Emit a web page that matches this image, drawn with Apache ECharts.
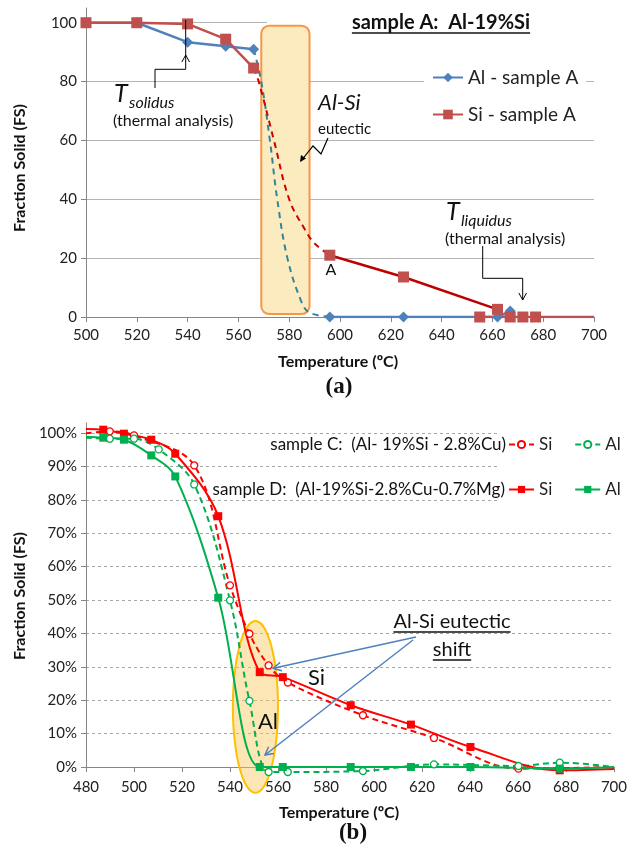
<!DOCTYPE html>
<html>
<head>
<meta charset="utf-8">
<script src="https://cdn.jsdelivr.net/npm/echarts@6/dist/echarts.min.js"></script>
<style>
html, body { margin: 0; padding: 0; background: #fff; }
#chart { width: 630px; height: 848px; }
</style>
</head>
<body>
<div id="chart"></div>
<script>
'use strict';
// ---- (a) sample A : Al-19%Si ----
var alT_a1 = [500, 520, 540, 555, 566];
var alFS_a1 = [100, 100, 93.4, 92, 91];
var alT_a2 = [596, 625, 662, 667];
var alFS_a2 = [0, 0, 0, 2];
var alDashT_a = [566, 569, 572.4, 575.3, 579.3, 584.9, 588, 596];
var alDashFS_a = [91, 80, 60, 40, 20, 5, 1.5, 0];
var siT_a1 = [500, 520, 540, 555, 566];
var siFS_a1 = [100, 100, 99.6, 94.4, 84.6];
var siDashT_a = [566, 568, 574, 580, 586, 590, 596];
var siDashFS_a = [84.6, 80, 60, 40, 30, 25, 21];
var siT_a2 = [596, 625, 662];
var siFS_a2 = [21, 13.6, 2.6];
var siT_a3 = [655, 667, 672, 677, 700];
var siFS_a3 = [0, 0, 0, 0, 0];
var eutecticT_a = [569, 588];   // shaded eutectic band (°C)
var eutecticFS_a = [1, 99];

// ---- (b) samples C and D ----
var tempD = [480, 487.2, 495.8, 507.2, 517.2, 535.1, 552.4, 562, 590.3, 615.4, 640.2, 677.4, 700];
var siD = [101.2, 101.0, 99.8, 98.0, 93.8, 75.1, 28.4, 26.9, 18.5, 12.7, 6.0, -1.0, -0.6];
var alD = [98.9, 98.6, 98.0, 93.3, 87.0, 50.7, 0, 0, 0, 0, 0, -0.5, 0];
var tempSiC = [480, 489.9, 500, 525.1, 540, 548.1, 556.1, 564.1, 595.4, 625, 660.2, 700];
var siC = [99.9, 100.5, 99.3, 90.3, 54.4, 39.9, 30.4, 25.3, 15.5, 8.7, -0.5, 0];
var tempAlC = [480, 489.9, 500, 510.3, 525.1, 540, 548.1, 556.1, 564.1, 595.4, 625, 660.2, 677.4, 700];
var alC = [98.6, 98.3, 98.3, 95.1, 84.6, 49.9, 19.8, -1.5, -1.5, -1.2, 0.8, 0.3, 1.3, 0];
var shiftCenter_b = [550.6, 18];  // ellipse around eutectic shift
var shiftRadius_b = [9.4, 25.7];

var FONT = 'Lato, "Open Sans", sans-serif';

function pts(ts, vs, noMark) {
	return ts.map(function(t, i) {
		if (noMark && noMark.indexOf(i) >= 0) return { value: [t, vs[i]], symbol: 'none' };
		return [t, vs[i]];
	});
}

var chart = echarts.init(document.getElementById('chart'));

var axisCol = '#868686';
function xAx(grid, min) {
	return {
		gridIndex: grid, type: 'value', min: min, max: 700, interval: 20,
		axisLine: { lineStyle: { color: axisCol } },
		axisTick: { show: true, length: 5, lineStyle: { color: axisCol } },
		axisLabel: { fontSize: 15, color: '#222', margin: grid === 0 ? 11 : 13, fontFamily: FONT },
		splitLine: { show: false }
	};
}

var redA = '#C0504D', blueA = '#4F81BD';
var lineB = { smooth: 0.35, clip: false, xAxisIndex: 1, yAxisIndex: 1, type: 'line' };
function sB(o) { return Object.assign({}, lineB, o); }

var option = {
	animation: false,
	textStyle: { fontFamily: FONT },
	grid: [
		{ left: 86, right: 36, top: 8, height: 309 },
		{ left: 86, right: 12, top: 423, height: 344 }
	],
	xAxis: [xAx(0, 500), xAx(1, 480)],
	yAxis: [{
		gridIndex: 0, type: 'value', min: 0, max: 105, interval: 20,
		axisLine: { show: true, lineStyle: { color: axisCol } },
		axisTick: { show: true, length: 5, lineStyle: { color: axisCol } },
		axisLabel: { showMaxLabel: false, fontSize: 15, color: '#222', margin: 9, fontFamily: FONT },
		splitLine: { show: true, showMaxLine: false, lineStyle: { color: '#B4B4B4' } }
	}, {
		gridIndex: 1, type: 'value', min: 0, max: 103, interval: 10,
		axisLine: { show: true, lineStyle: { color: axisCol } },
		axisTick: { show: true, length: 5, lineStyle: { color: axisCol } },
		axisLabel: { showMaxLabel: false, formatter: '{value}%', fontSize: 15, color: '#222', margin: 9, fontFamily: FONT },
		splitLine: { show: true, showMaxLine: false, lineStyle: { color: '#A6A6A6', type: [3, 3] } }
	}],
	legend: [{
		data: ['Al - sample A', 'Si - sample A'],
		orient: 'vertical', left: 424, top: 62, padding: [6, 8, 6, 8],
		backgroundColor: '#fff', itemWidth: 30, itemHeight: 12, itemGap: 18,
		textStyle: { fontSize: 19, color: '#222', fontFamily: FONT }
	}, {
		data: ['Si C', 'Al C'], left: 508, top: 436, padding: 0,
		itemWidth: 25, itemHeight: 9, itemGap: 22,
		formatter: function(n) { return n.split(' ')[0]; },
		textStyle: { fontSize: 17, color: '#222', fontFamily: FONT }
	}, {
		data: ['Si D', 'Al D'], left: 508, top: 481, padding: 0,
		itemWidth: 25, itemHeight: 9, itemGap: 22,
		formatter: function(n) { return n.split(' ')[0]; },
		textStyle: { fontSize: 17, color: '#222', fontFamily: FONT }
	}],
	series: [
		// (a)
		{ name: 'Al - sample A', type: 'line', data: pts(alT_a1, alFS_a1), color: blueA, symbol: 'diamond', symbolSize: 11, lineStyle: { width: 2.5 } },
		{ name: 'Al - sample A', type: 'line', data: pts(alT_a2, alFS_a2), color: blueA, symbol: 'diamond', symbolSize: 11, lineStyle: { width: 2.5 } },
		{ name: 'alDash', type: 'line', data: pts(alDashT_a, alDashFS_a), smooth: 0.4, showSymbol: false, lineStyle: { color: '#31849B', width: 2, type: [6, 5] } },
		{ name: 'Si - sample A', type: 'line', data: pts(siT_a1, siFS_a1), color: redA, symbol: 'rect', symbolSize: 11, lineStyle: { width: 2.5 } },
		{ name: 'siDash', type: 'line', data: pts(siDashT_a, siDashFS_a), smooth: 0.4, showSymbol: false, lineStyle: { color: '#D00000', width: 2, type: [6, 5] } },
		{ name: 'Si - sample A', type: 'line', data: pts(siT_a2, siFS_a2), color: redA, symbol: 'rect', symbolSize: 11, lineStyle: { width: 2.5, color: '#C00000' } },
		{ name: 'Si - sample A', type: 'line', data: pts(siT_a3, siFS_a3, [4]), color: redA, symbol: 'rect', symbolSize: 11, lineStyle: { width: 2.5 } },
		// (b)
		sB({ name: 'Si C', data: pts(tempSiC, siC, [0, 11]), color: '#FF0000', symbol: 'circle', symbolSize: 7, itemStyle: { color: '#fff', borderColor: '#FF0000', borderWidth: 1.3 }, lineStyle: { color: '#FF0000', width: 2, type: [6, 4] } }),
		sB({ name: 'Al C', data: pts(tempAlC, alC, [0, 13]), color: '#00B050', symbol: 'circle', symbolSize: 7, itemStyle: { color: '#fff', borderColor: '#00B050', borderWidth: 1.3 }, lineStyle: { color: '#00B050', width: 2, type: [6, 4] } }),
		sB({ name: 'Si D', data: pts(tempD, siD, [0, 12]), color: '#FF0000', symbol: 'rect', symbolSize: 8, lineStyle: { width: 2 } }),
		sB({ name: 'Al D', data: pts(tempD, alD, [0, 12]), color: '#00B050', symbol: 'rect', symbolSize: 8, lineStyle: { width: 2 } })
	]
};
chart.setOption(option);

// ---- annotations ----
var measureCtx = document.createElement('canvas').getContext('2d');
function textW(s, font) { measureCtx.font = font; return measureCtx.measureText(s).width; }

function txt(s, x, y, font, opt) {
	opt = opt || {};
	return {
		type: 'text', x: x, y: y, z: 10, rotation: opt.rot || 0,
		style: {
			text: s, font: font, fill: opt.fill || '#111',
			align: opt.align || 'left', verticalAlign: 'middle',
			textAlign: opt.align || 'left', textVerticalAlign: 'middle'
		}
	};
}
function pline(points, color, w) {
	return { type: 'polyline', z: 10, shape: { points: points }, style: { stroke: color || '#000', lineWidth: w || 1, fill: null } };
}
// centred text with an underline drawn under it
function underlined(s, cx, cy, font, off) {
	var w = textW(s, font);
	return [txt(s, cx, cy, font, { align: 'center' }), pline([[cx - w / 2, cy + off], [cx + w / 2, cy + off]], '#111', 1.5)];
}
function openHead(tip, from, len, color, w) {
	var a = Math.atan2(tip[1] - from[1], tip[0] - from[0]);
	var s = 0.5;
	return pline([
		[tip[0] - len * Math.cos(a - s), tip[1] - len * Math.sin(a - s)],
		tip,
		[tip[0] - len * Math.cos(a + s), tip[1] - len * Math.sin(a + s)]
	], color, w);
}
function solidHead(tip, from, len, color) {
	var a = Math.atan2(tip[1] - from[1], tip[0] - from[0]);
	var s = 0.45;
	return { type: 'polygon', z: 10, shape: { points: [
		[tip[0] - len * Math.cos(a - s), tip[1] - len * Math.sin(a - s)], tip,
		[tip[0] - len * Math.cos(a + s), tip[1] - len * Math.sin(a + s)]] }, style: { fill: color } };
}

function buildGraphic() {
	var p0 = function(v) { return chart.convertToPixel({ gridIndex: 0 }, v); };
	var p1 = function(v) { return chart.convertToPixel({ gridIndex: 1 }, v); };
	var g = [];
	var TBold = 'bold 16px ' + FONT;

	// (a) title box
	g.push({ type: 'rect', z: 1, shape: { x: 267, y: 12, width: 340, height: 24 }, style: { fill: '#fff' } });
	var r1 = p0([eutecticT_a[0], eutecticFS_a[1]]), r2 = p0([eutecticT_a[1], eutecticFS_a[0]]);
	g.push({ type: 'rect', z: 1, shape: { x: r1[0], y: r1[1], width: r2[0] - r1[0], height: r2[1] - r1[1], r: 8 },
		style: { fill: '#FDEBC0', stroke: '#F79646', lineWidth: 2 } });

	g = g.concat(underlined('sample A:  Al-19%Si', 441, 23, 'bold 20px ' + FONT, 10));

	// T solidus
	g.push(txt('T', 114, 94, 'italic 25px ' + FONT));
	g.push(txt('solidus', 129, 103, 'italic 16px ' + FONT));
	g.push(txt('(thermal analysis)', 113, 121, '16px ' + FONT));
	g.push(pline([[155, 88], [155, 69.3], [185.7, 69.3], [185.7, 20]], '#000', 1));
	g.push(openHead([185.7, 55], [185.7, 69], 8, '#000', 1));

	// Al-Si eutectic
	g.push(txt('Al-Si', 318, 103, 'italic 22px ' + FONT));
	g.push(txt('eutectic', 318, 129, '15px ' + FONT));
	g.push(pline([[328, 138], [321, 154], [313, 146], [301, 161]], '#000', 1.2));
	g.push(solidHead([300, 162], [306, 153], 7, '#000'));

	// A
	var pa = p0([siT_a2[0], siFS_a2[0]]);
	g.push(txt('A', pa[0] + 1, pa[1] + 15, '16px ' + FONT, { align: 'center' }));

	// T liquidus
	g.push(txt('T', 446, 212, 'italic 25px ' + FONT));
	g.push(txt('liquidus', 461, 221, 'italic 16px ' + FONT));
	g.push(txt('(thermal analysis)', 445, 239, '16px ' + FONT));
	g.push(pline([[482.7, 246], [482.7, 278.3], [522.7, 278.3], [522.7, 300]], '#000', 1));
	g.push(openHead([522.7, 300], [522.7, 290], 8, '#000', 1));

	g.push(txt('Temperature (\u00BAC)', 338, 362, TBold, { align: 'center' }));
	g.push(txt('(a)', 339, 387, 'bold 23px "Liberation Serif", serif', { align: 'center' }));
	g.push(txt('Fraction Solid (FS)', 20, 168, TBold, { align: 'center', rot: Math.PI / 2 }));

	// (b)
	g.push({ type: 'rect', z: 1, shape: { x: 500, y: 425, width: 122, height: 80 }, style: { fill: '#fff' } });
	g.push(txt('sample C:  (Al- 19%Si - 2.8%Cu)', 506, 445, '17px ' + FONT, { align: 'right' }));
	g.push(txt('sample D:  (Al-19%Si-2.8%Cu-0.7%Mg)', 505, 490, '17px ' + FONT, { align: 'right' }));

	var c = p1(shiftCenter_b);
	var ex = p1([shiftCenter_b[0] + shiftRadius_b[0], shiftCenter_b[1]]);
	var ey = p1([shiftCenter_b[0], shiftCenter_b[1] + shiftRadius_b[1]]);
	var rx = ex[0] - c[0], ry = c[1] - ey[1];
	var ell = [];
	for (var i = 0; i < 90; i++) {
		var t = i / 90 * Math.PI * 2;
		ell.push([c[0] + rx * Math.cos(t), c[1] + ry * Math.sin(t)]);
	}
	g.push({ type: 'polygon', z: 1, shape: { points: ell }, style: { fill: 'rgba(250,200,90,0.45)', stroke: '#FFC000', lineWidth: 2 } });

	g.push(txt('Al', 268, 722, '22px ' + FONT, { align: 'center' }));
	g.push(txt('Si', 308, 678, '22px ' + FONT));
	g = g.concat(underlined('Al-Si eutectic', 452, 622, '20px ' + FONT, 10));
	g = g.concat(underlined('shift', 452, 650, '20px ' + FONT, 10));

	var ab = '#4F81BD';
	g.push(pline([[416, 637], [273.3, 668.3]], ab, 1.5));
	g.push(openHead([273.3, 668.3], [416, 637], 9, ab, 1.5));
	g.push(pline([[413, 640], [265, 755]], ab, 1.5));
	g.push(openHead([265, 755], [413, 640], 9, ab, 1.5));

	g.push(txt('Temperature (\u00BAC)', 339, 813, TBold, { align: 'center' }));
	g.push(txt('(b)', 353, 833, 'bold 23px "Liberation Serif", serif', { align: 'center' }));
	g.push(txt('Fraction Solid (FS)', 20, 596, TBold, { align: 'center', rot: Math.PI / 2 }));
	return g;
}
chart.setOption({ graphic: buildGraphic() });
</script>
</body>
</html>
